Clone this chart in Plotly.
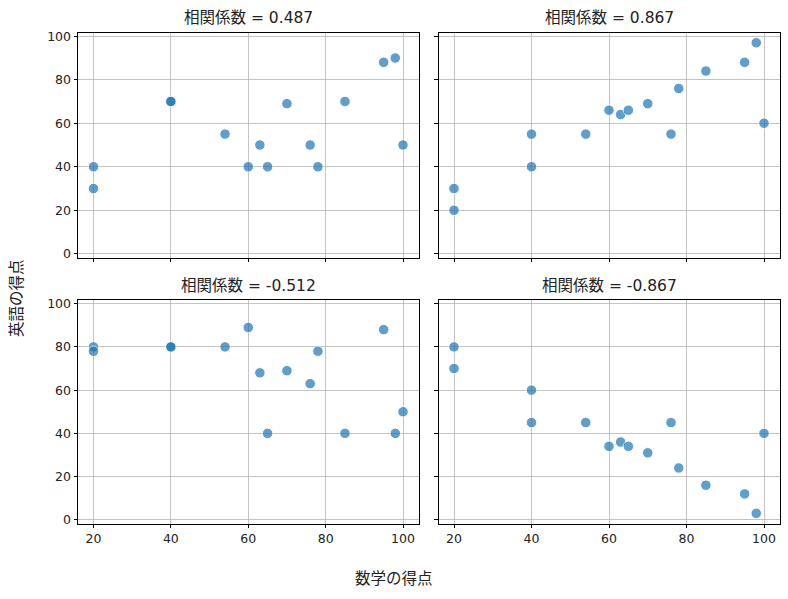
import plotly.graph_objects as go
from plotly.subplots import make_subplots

# 数学の得点 (common to all four panels)
math_scores = [20, 20, 40, 40, 54, 60, 63, 65, 70, 76, 78, 85, 95, 98, 100]

# 英語の得点 for each panel
english_a = [40, 30, 70, 70, 55, 40, 50, 40, 69, 50, 40, 70, 88, 90, 50]
english_b = [30, 20, 55, 40, 55, 66, 64, 66, 69, 55, 76, 84, 88, 97, 60]
english_c = [80, 78, 80, 80, 80, 89, 68, 40, 69, 63, 78, 40, 88, 40, 50]
english_d = [80, 70, 60, 45, 45, 34, 36, 34, 31, 45, 24, 16, 12, 3, 40]

titles = ["相関係数 = 0.487", "相関係数 = 0.867", "相関係数 = -0.512", "相関係数 = -0.867"]
x_ticks = [20, 40, 60, 80, 100]
y_ticks = [0, 20, 40, 60, 80, 100]

FONT = "DejaVu Sans, Noto Sans CJK JP, sans-serif"
W, H = 788, 599

fig = make_subplots(rows=2, cols=2, shared_xaxes=True, shared_yaxes=True)

series = [english_a, english_b, english_c, english_d]
for i, ys in enumerate(series):
    r, c = i // 2 + 1, i % 2 + 1
    fig.add_trace(go.Scatter(
        x = math_scores, y = ys, mode = "markers",
        marker = dict(size = 10.5, color = "#1f77b4", opacity = 0.7,
                      line = dict(color = "white", width = 1)),
        showlegend = False, hoverinfo = "skip"
    ), row = r, col = c)

# axes boxes in pixels (left, right, top, bottom)
boxes = [(78, 418.5, 32.5, 257.5), (438.5, 779.5, 32.5, 257.5),
         (78, 418.5, 300, 523.5), (438.5, 779.5, 300, 523.5)]

axis_style = dict(
    showline = True, mirror = True, linecolor = "black", linewidth = 1,
    ticks = "outside", ticklen = 3.5, tickwidth = 0.8, tickcolor = "black",
    showgrid = True, gridcolor = "rgba(176,176,176,0.75)", gridwidth = 0.8,
    zeroline = False, tickfont = dict(family = FONT, size = 12.5, color = "#222")
)

for i, (l, rgt, t, b) in enumerate(boxes):
    n = "" if i == 0 else str(i + 1)
    fig.layout["xaxis" + n].update(
        domain = [l / W, rgt / W], range = [16, 104], tickvals = x_ticks,
        showticklabels = i >= 2, **axis_style)
    fig.layout["yaxis" + n].update(
        domain = [1 - b / H, 1 - t / H], range = [-1.7, 101.7], tickvals = y_ticks,
        showticklabels = i % 2 == 0, **axis_style)

annotations = []
for i, (l, rgt, t, b) in enumerate(boxes):
    annotations.append(dict(
        text = titles[i], x = (l + rgt) / 2 / W, y = 1 - t / H,
        xref = "paper", yref = "paper", xanchor = "center", yanchor = "bottom",
        yshift = 3, showarrow = False,
        font = dict(family = FONT, size = 15.5, color = "#222")
    ))

annotations.append(dict(
    text = "数学の得点", x = 394 / W, y = 1 - 579 / H, xref = "paper", yref = "paper",
    xanchor = "center", yanchor = "middle", showarrow = False,
    font = dict(family = FONT, size = 15.5, color = "#222")
))
annotations.append(dict(
    text = "英語の得点", x = 17 / W, y = 1 - 298 / H, xref = "paper", yref = "paper",
    xanchor = "center", yanchor = "middle", showarrow = False, textangle = -90,
    font = dict(family = FONT, size = 15.5, color = "#222")
))

fig.update_layout(
    width = W, height = H,
    margin = dict(l = 0, r = 0, t = 0, b = 0, autoexpand = False),
    plot_bgcolor = "white", paper_bgcolor = "white",
    annotations = annotations,
    font = dict(family = FONT)
)

# drop the browser's default 8px body margin so the figure sits at (0, 0)
fig.write_html("out.html", config = {"displayModeBar": False},
               post_script = "document.body.style.margin = '0';")
